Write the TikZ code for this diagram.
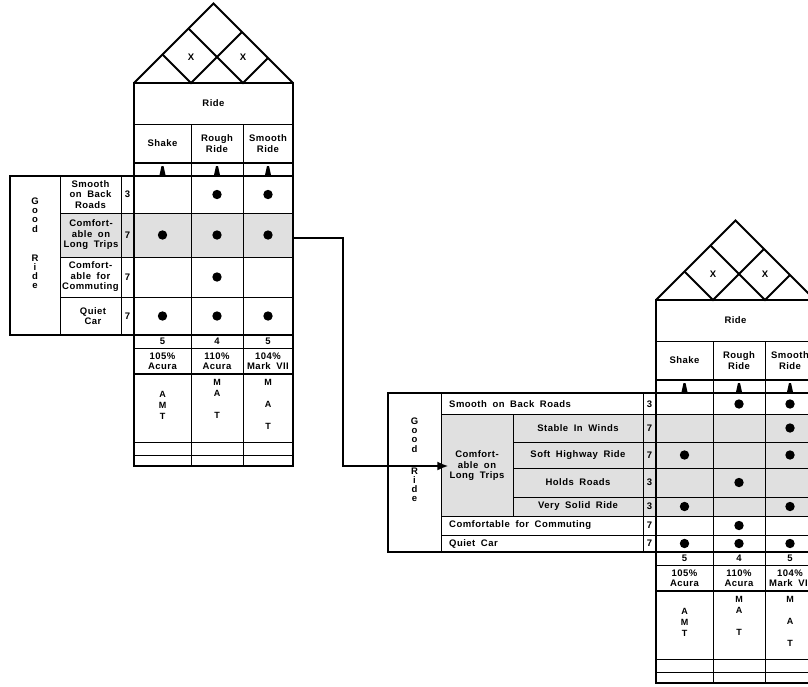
\documentclass[tikz,border=0pt]{standalone}
\usepackage{fontspec}
\setmainfont{Liberation Sans}[LetterSpace=5,WordSpace=1.8]
\usetikzlibrary{arrows.meta, positioning}

\begin{document}
\begin{tikzpicture}[
    x=1pt, y=-1pt,
    every node/.style={font=\bfseries\fontsize{9.5}{10.5}\selectfont, inner sep=1pt, align=center},
    frame/.style={line width=2pt},
    grid/.style={line width=1pt},
    shade/.style={fill=black!12},
    tipmark/.style={fill=black},
    mat/.style={anchor=north, font=\bfseries\fontsize{9}{11}\selectfont},
    link/.style={line width=2pt, -{Latex[length=11pt,width=9pt]}},
]
\useasboundingbox (0,0) rectangle (808,686);
\clip (0,0) rectangle (808,686);

%% --- Shaded rows (long trips) ---
\fill[shade] (60,213) rectangle (293,257);
\fill[shade] (441,414) rectangle (815,516);

%% --- Left house: roof ---
\draw[frame, line join=miter] (134,83) -- (213.5,3.5) -- (293,83);
\draw[frame] (162.5,54.5) -- (191,83) -- (242,32);
\draw[frame] (188.5,28.5) -- (243,83) -- (268,58);
\node (l-x1) at (191,57) {X};
\node (l-x2) at (243,57) {X};

%% --- Left house: body ---
\draw[frame] (134,83) rectangle (293,466);
\draw[grid] (134,124) -- (293,124);
\draw[frame] (134,163) -- (293,163);
\draw[frame] (134,176) -- (293,176);
\draw[grid] (191,124) -- (191,466);
\draw[grid] (243,124) -- (243,466);
\draw[frame] (134,335) -- (293,335);
\draw[grid] (134,348) -- (293,348);
\draw[frame] (134,374) -- (293,374);
\draw[grid] (134,442) -- (293,442);
\draw[grid] (134,455) -- (293,455);

%% --- Left house: customer wants ---
\draw[frame] (10,176) rectangle (134,335);
\draw[grid] (60,176) -- (60,335);
\draw[grid] (121,176) -- (121,335);
\draw[grid] (60,213) -- (293,213);
\draw[grid] (60,257) -- (293,257);
\draw[grid] (60,297) -- (293,297);

\node (l-ride)   at (213.5,103.5) {Ride};
\node (l-shake)  at (162.5,143.5) {Shake};
\node (l-rough)  at (217,143.5)   {Rough\\Ride};
\node (l-smooth) at (268,143.5)   {Smooth\\Ride};

\node[font=\bfseries\fontsize{9.5}{9.2}\selectfont] (l-good) at (35,243.5)
    {G\\o\\o\\d\\[20pt]R\\i\\d\\e};
\node (l-back)  at (90.5,194.5) {Smooth\\on Back\\Roads};
\node (l-long)  at (91,235)     {Comfort-\\able on\\Long Trips};
\node (l-comm)  at (90.5,277)   {Comfort-\\able for\\Commuting};
\node (l-quiet) at (93,316)     {Quiet\\Car};
\node (l-w1) at (127.5,194.5) {3};
\node (l-w2) at (127.5,235)   {7};
\node (l-w3) at (127.5,277)   {7};
\node (l-w4) at (127.5,316)   {7};

%% --- Left house: targets ---
\fill[tipmark] (159.5,175) -- (165.5,175) -- (163.5,166) -- (161.5,166) -- cycle;
\fill[tipmark] (214,175) -- (220,175) -- (218,166) -- (216,166) -- cycle;
\fill[tipmark] (265,175) -- (271,175) -- (269,166) -- (267,166) -- cycle;

\foreach \x/\y in {217/194.5, 268/194.5, 162.5/235, 217/235, 268/235,
                   217/277, 162.5/316, 217/316, 268/316}
    \fill (\x,\y) circle (4.7pt);

\node (l-n1) at (162.5,341.5) {5};
\node (l-n2) at (217,341.5)   {4};
\node (l-n3) at (268,341.5)   {5};
\node (l-p1) at (162.5,361) {105\%\\Acura};
\node (l-p2) at (217,361)   {110\%\\Acura};
\node (l-p3) at (268,361)   {104\%\\Mark VII};
\node[mat] (l-m1) at (162.5,378) {\strut\\A\\M\\T};
\node[mat] (l-m2) at (217,378)   {M\\A\\\strut\\T};
\node[mat] (l-m3) at (268,378)   {M\\\strut\\A\\\strut\\T};

%% --- Right house: roof ---
\draw[frame, line join=miter] (656,300) -- (735.5,220.5) -- (815,300);
\draw[frame] (684.5,271.5) -- (713,300) -- (764,249);
\draw[frame] (710.5,245.5) -- (765,300) -- (790,275);
\node (r-x1) at (713,274) {X};
\node (r-x2) at (765,274) {X};

%% --- Right house: body ---
\draw[frame] (656,300) rectangle (815,683);
\draw[grid] (656,341) -- (815,341);
\draw[frame] (656,380) -- (815,380);
\draw[frame] (656,393) -- (815,393);
\draw[grid] (713,341) -- (713,683);
\draw[grid] (765,341) -- (765,683);
\draw[frame] (656,552) -- (815,552);
\draw[grid] (656,565) -- (815,565);
\draw[frame] (656,591) -- (815,591);
\draw[grid] (656,659) -- (815,659);
\draw[grid] (656,672) -- (815,672);

%% --- Right house: customer wants (expanded) ---
\draw[frame] (388,393) rectangle (656,552);
\draw[grid] (441,393) -- (441,552);
\draw[grid] (643,393) -- (643,552);
\draw[grid] (513,414) -- (513,516);
\draw[grid] (441,414) -- (815,414);
\draw[grid] (513,442) -- (815,442);
\draw[grid] (513,468) -- (815,468);
\draw[grid] (513,497) -- (815,497);
\draw[grid] (441,516) -- (815,516);
\draw[grid] (441,535) -- (815,535);

\node (r-ride)   at (735.5,320.5) {Ride};
\node (r-shake)  at (684.5,360.5) {Shake};
\node (r-rough)  at (739,360.5)   {Rough\\Ride};
\node (r-smooth) at (790,360.5)   {Smooth\\Ride};

\node[font=\bfseries\fontsize{9.5}{9.2}\selectfont] (r-good) at (414.5,460)
    {G\\o\\o\\d\\[13pt]R\\i\\d\\e};
\node[anchor=west] (r-back) at (448,404) {Smooth on Back Roads};
\node (r-long)    at (477,466)   {Comfort-\\able on\\Long Trips};
\node (r-winds)   at (578,428)   {Stable In Winds};
\node (r-highway) at (578,455)   {Soft Highway Ride};
\node (r-holds)   at (578,482.5) {Holds Roads};
\node (r-solid)   at (578,506.5) {Very Solid Ride};
\node[anchor=west] (r-comm)  at (448,525.5) {Comfortable for Commuting};
\node[anchor=west] (r-quiet) at (448,543.5) {Quiet Car};
\node (r-w1) at (649.5,404)   {3};
\node (r-w2) at (649.5,428)   {7};
\node (r-w3) at (649.5,455)   {7};
\node (r-w4) at (649.5,482.5) {3};
\node (r-w5) at (649.5,506.5) {3};
\node (r-w6) at (649.5,525.5) {7};
\node (r-w7) at (649.5,543.5) {7};

%% --- Right house: targets ---
\fill[tipmark] (681.5,392) -- (687.5,392) -- (685.5,383) -- (683.5,383) -- cycle;
\fill[tipmark] (736,392) -- (742,392) -- (740,383) -- (738,383) -- cycle;
\fill[tipmark] (787,392) -- (793,392) -- (791,383) -- (789,383) -- cycle;

\foreach \x/\y in {739/404, 790/404, 790/428, 684.5/455, 790/455, 739/482.5,
                   684.5/506.5, 790/506.5, 739/525.5, 684.5/543.5, 739/543.5, 790/543.5}
    \fill (\x,\y) circle (4.7pt);

\node (r-n1) at (684.5,558.5) {5};
\node (r-n2) at (739,558.5)   {4};
\node (r-n3) at (790,558.5)   {5};
\node (r-p1) at (684.5,578) {105\%\\Acura};
\node (r-p2) at (739,578)   {110\%\\Acura};
\node (r-p3) at (790,578)   {104\%\\Mark VII};
\node[mat] (r-m1) at (684.5,595) {\strut\\A\\M\\T};
\node[mat] (r-m2) at (739,595)   {M\\A\\\strut\\T};
\node[mat] (r-m3) at (790,595)   {M\\\strut\\A\\\strut\\T};

%% --- Expansion link ---
\coordinate (l-out) at (293,238);
\draw[link] (l-out) -- ++(50,0) |- (r-long.west);

\end{tikzpicture}
\end{document}
